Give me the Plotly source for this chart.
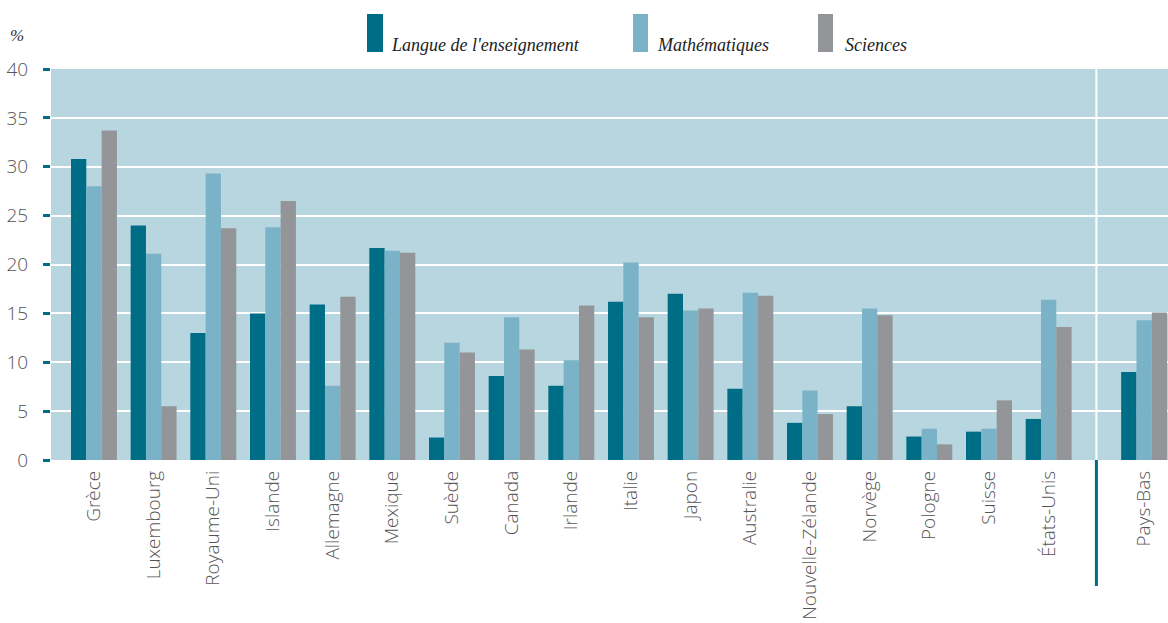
import plotly.graph_objects as go

categories = ["Grèce", "Luxembourg", "Royaume-Uni", "Islande", "Allemagne", "Mexique",
              "Suède", "Canada", "Irlande", "Italie", "Japon", "Australie",
              "Nouvelle-Zélande", "Norvège", "Pologne", "Suisse", "États-Unis", "Pays-Bas"]
langue = [30.8, 24.0, 13.0, 15.0, 15.9, 21.7, 2.3, 8.6, 7.6, 16.2, 17.0, 7.3, 3.8, 5.5, 2.4, 2.9, 4.2, 9.0]
maths = [28.0, 21.1, 29.3, 23.8, 7.6, 21.4, 12.0, 14.6, 10.2, 20.2, 15.3, 17.1, 7.1, 15.5, 3.2, 3.2, 16.4, 14.3]
sciences = [33.7, 5.5, 23.7, 26.5, 16.7, 21.2, 11.0, 11.3, 15.8, 14.6, 15.5, 16.8, 4.7, 14.8, 1.6, 6.1, 13.6, 15.1]
series_names = ["Langue de l'enseignement", "Mathématiques", "Sciences"]
y_ticks = [0, 5, 10, 15, 20, 25, 30, 35, 40]

colors = ["#006D87", "#7AB3C8", "#939598"]
# positions: main group then a gap before the last country
xpos = list(range(len(categories) - 1)) + [len(categories) - 1 + 0.6]
sep_x = (xpos[-2] + xpos[-1]) / 2

fig = go.Figure()
for name, vals, col in zip(series_names, [langue, maths, sciences], colors):
    fig.add_trace(go.Bar(x=xpos, y=vals, name=name, marker_color=col,
                         marker_line_width=0, showlegend=False))

# plot area in page coords: x 51..1168, y 69..460
W, H = 1168, 623
PL, PT, PW, PH = 51, 69, 1117, 391

font_main = "'Open Sans', Lato, sans-serif"
fig.update_layout(
    width=W, height=H,
    margin=dict(l=PL, r=W - PL - PW, t=PT, b=H - PT - PH),
    paper_bgcolor="white", plot_bgcolor="#B8D6E0",
    barmode="group", bargap=0.23, bargroupgap=0,
    font=dict(family=font_main, color="#555555"),
    xaxis=dict(range=[-0.72, 18.0], tickvals=xpos, ticktext=categories,
               tickangle=-90, tickfont=dict(size=19, color="#555555", weight=300),
               showgrid=False, zeroline=False, ticks="", ticklabelstandoff=6,
               showline=False, automargin=False),
    yaxis=dict(range=[0, 40], tickvals=y_ticks, showgrid=True, gridcolor="white",
               gridwidth=2, zeroline=False, ticks="outside", ticklen=7, tickwidth=3,
               tickcolor="#006D87", tickfont=dict(size=19, color="#555555", weight=300),
               ticklabelstandoff=11, showline=False, automargin=False),
)

# separator lines
fig.add_shape(type="line", xref="x", yref="paper", x0=sep_x, x1=sep_x, y0=0, y1=1,
              line=dict(color="white", width=2), layer="below")
fig.add_shape(type="line", xref="x", yref="paper", x0=sep_x, x1=sep_x, y0=-(586 - 460) / PH, y1=0,
              line=dict(color="#006D87", width=3))

# custom legend
leg_items = [(367, 383, 389), (633, 648, 655), (818, 833, 843)]
for (x0, x1, tx), name, col in zip(leg_items, series_names, colors):
    fig.add_shape(type="rect", xref="paper", yref="paper",
                  x0=(x0 - PL) / PW, x1=(x1 - PL) / PW,
                  y0=(460 - 52) / PH, y1=(460 - 14) / PH,
                  fillcolor=col, line_width=0)
    fig.add_annotation(xref="paper", yref="paper", x=(tx - PL) / PW, y=(460 - 45) / PH,
                       text="<i>" + name + "</i>", showarrow=False, xanchor="left",
                       yanchor="middle",
                       font=dict(size=18, color="#222222", family="'Liberation Serif', serif"))

fig.add_annotation(xref="paper", yref="paper", x=(17 - PL) / PW, y=(460 - 35) / PH,
                   text="<i>%</i>", showarrow=False, xanchor="center", yanchor="middle",
                   font=dict(size=17, color="#333333", family="'Liberation Serif', serif"))

fig.write_html("out.html", config={"displayModeBar": False},
               post_script="document.body.style.margin='0';document.body.style.overflow='hidden';")
